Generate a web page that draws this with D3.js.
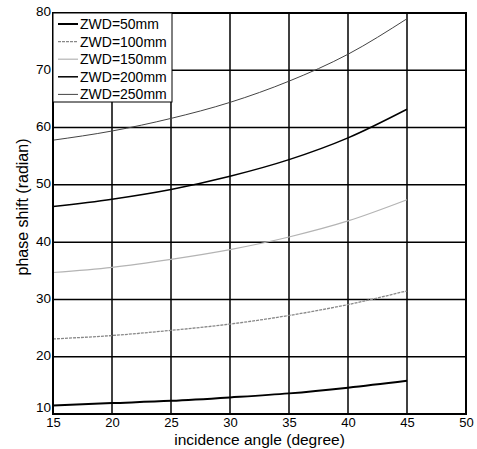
<!DOCTYPE html>
<html>
<head>
<meta charset="utf-8">
<script src="https://cdn.jsdelivr.net/npm/d3@7"></script>
<style>
  body { margin: 0; background: #fff; }
  text { font-family: "Liberation Sans", Arial, sans-serif; fill: #000; }
</style>
</head>
<body>
<div id="chart"></div>
<script>
// data
const angles = [15, 20, 25, 30, 35, 40, 45]
const zwd50 = [11.5, 11.9, 12.3, 12.9, 13.6, 14.6, 15.8]
const zwd100 = [23.1, 23.7, 24.6, 25.7, 27.2, 29.1, 31.5]
const zwd150 = [34.7, 35.6, 37.0, 38.7, 40.9, 43.7, 47.4]
const zwd200 = [46.2, 47.5, 49.2, 51.5, 54.4, 58.2, 63.2]
const zwd250 = [57.8, 59.4, 61.6, 64.4, 68.1, 72.8, 79.0]
const seriesNames = ["ZWD=50mm", "ZWD=100mm", "ZWD=150mm", "ZWD=200mm", "ZWD=250mm"]
const xTicks = [15, 20, 25, 30, 35, 40, 45, 50]
const yTicks = [10, 20, 30, 40, 50, 60, 70, 80]

const width = 477, height = 449
const margin = {left: 53, right: 11, top: 13, bottom: 35}

const svg = d3.select("#chart").append("svg")
  .attr("width", width)
  .attr("height", height)

const x = d3.scaleLinear().domain([15, 50]).range([margin.left, width - margin.right])
const y = d3.scaleLinear().domain([10, 80]).range([height - margin.bottom, margin.top])

// grid
svg.append("g").selectAll("line").data(xTicks.slice(1, -1)).join("line")
  .attr("x1", d => x(d)).attr("x2", d => x(d))
  .attr("y1", y(10)).attr("y2", y(80))
  .attr("stroke", "#000").attr("stroke-width", 1.5)
svg.append("g").selectAll("line").data(yTicks.slice(1, -1)).join("line")
  .attr("x1", x(15)).attr("x2", x(50))
  .attr("y1", d => y(d)).attr("y2", d => y(d))
  .attr("stroke", "#000").attr("stroke-width", 1.5)

// lines
const styles = [
  {color: "#000", w: 2, dash: null},
  {color: "#888", w: 1.3, dash: "3,1"},
  {color: "#b4b4b4", w: 1.2, dash: null},
  {color: "#000", w: 1.5, dash: null},
  {color: "#444", w: 1, dash: null}
]
const allSeries = [zwd50, zwd100, zwd150, zwd200, zwd250]
const line = d3.line().x(d => x(d[0])).y(d => y(d[1])).curve(d3.curveMonotoneX)

allSeries.forEach((vals, i) => {
  svg.append("path")
    .datum(angles.map((a, j) => [a, vals[j]]))
    .attr("d", line)
    .attr("fill", "none")
    .attr("stroke", styles[i].color)
    .attr("stroke-width", styles[i].w)
    .attr("stroke-dasharray", styles[i].dash)
})

// axes box
svg.append("rect")
  .attr("x", x(15)).attr("y", y(80))
  .attr("width", x(50) - x(15)).attr("height", y(10) - y(80))
  .attr("fill", "none").attr("stroke", "#000").attr("stroke-width", 2)

const xAxis = svg.append("g")
  .attr("transform", `translate(0,${y(10)})`)
  .call(d3.axisBottom(x).tickValues(xTicks).tickSize(0).tickPadding(4))
xAxis.select(".domain").remove()
xAxis.selectAll("text").style("font-size", "13px").attr("font-family", null)

const yAxis = svg.append("g")
  .attr("transform", `translate(${x(15)},0)`)
  .call(d3.axisLeft(y).tickValues(yTicks).tickSize(0).tickPadding(2))
yAxis.select(".domain").remove()
yAxis.selectAll("text").style("font-size", "13.5px").attr("font-family", null)
  .attr("dy", d => d === 10 ? "-0.2em" : "0.22em")

// axis titles
svg.append("text")
  .attr("x", (x(15) + x(50)) / 2)
  .attr("y", 444.5)
  .attr("text-anchor", "middle")
  .style("font-size", "15.5px")
  .text("incidence angle (degree)")

svg.append("text")
  .attr("transform", "translate(28,207) rotate(-90)")
  .attr("text-anchor", "middle")
  .style("font-size", "16px")
  .text("phase shift (radian)")

// legend
const legend = svg.append("g")
legend.append("rect")
  .attr("x", x(15)).attr("y", y(80))
  .attr("width", 119).attr("height", 89)
  .attr("fill", "#fff").attr("stroke", "#000").attr("stroke-width", 1)

seriesNames.forEach((name, i) => {
  const ly = 24 + i * 17.6
  legend.append("line")
    .attr("x1", 58).attr("x2", 78)
    .attr("y1", ly).attr("y2", ly)
    .attr("stroke", styles[i].color)
    .attr("stroke-width", styles[i].w)
    .attr("stroke-dasharray", styles[i].dash)
  legend.append("text")
    .attr("x", 80).attr("y", ly)
    .attr("dy", "0.35em")
    .style("font-size", "14px")
    .text(name)
})
</script>
</body>
</html>
